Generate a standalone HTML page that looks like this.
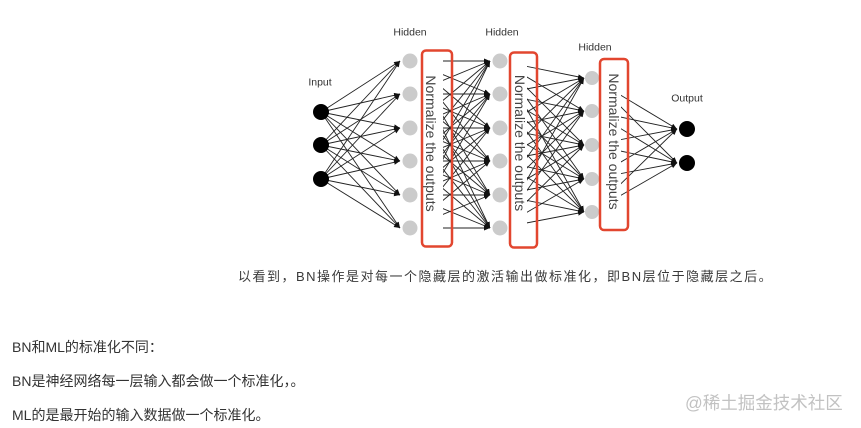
<!DOCTYPE html>
<html><head><meta charset="utf-8">
<style>
html,body{margin:0;padding:0;background:#fff;}
body{width:861px;height:428px;position:relative;overflow:hidden;font-family:"Liberation Sans","Noto Sans CJK SC",sans-serif;}
svg{position:absolute;left:0;top:0;}
.l line{stroke:#222;stroke-width:0.9;marker-end:url(#a);}
.t{position:absolute;white-space:nowrap;}
</style></head><body>
<svg width="861" height="428" viewBox="0 0 861 428">
<defs>
<marker id="a" markerUnits="userSpaceOnUse" markerWidth="7" markerHeight="6" refX="6" refY="2.5" orient="auto"><path d="M0,0 L6,2.5 L0,5 z" fill="#111"/></marker>
<clipPath id="c1"><rect x="443" y="0" width="60" height="300"/></clipPath>
<clipPath id="c2"><rect x="527" y="0" width="60" height="300"/></clipPath>
<clipPath id="c3"><rect x="621" y="0" width="60" height="300"/></clipPath>
</defs>
<g font-family="Liberation Sans, sans-serif" font-size="10.5" fill="#333" text-anchor="middle">
<text x="410" y="35.5">Hidden</text>
<text x="502" y="35.5">Hidden</text>
<text x="595" y="50.5">Hidden</text>
<text x="320" y="85.5">Input</text>
<text x="687" y="101.5">Output</text>
</g>
<!-- input -> hidden1 -->
<g class="l">
<line x1="321" y1="112" x2="400" y2="61"/><line x1="321" y1="112" x2="400" y2="94"/><line x1="321" y1="112" x2="400" y2="128"/><line x1="321" y1="112" x2="400" y2="161"/><line x1="321" y1="112" x2="400" y2="195"/><line x1="321" y1="112" x2="400" y2="228"/>
<line x1="321" y1="145" x2="400" y2="61"/><line x1="321" y1="145" x2="400" y2="94"/><line x1="321" y1="145" x2="400" y2="128"/><line x1="321" y1="145" x2="400" y2="161"/><line x1="321" y1="145" x2="400" y2="195"/><line x1="321" y1="145" x2="400" y2="228"/>
<line x1="321" y1="179" x2="400" y2="61"/><line x1="321" y1="179" x2="400" y2="94"/><line x1="321" y1="179" x2="400" y2="128"/><line x1="321" y1="179" x2="400" y2="161"/><line x1="321" y1="179" x2="400" y2="195"/><line x1="321" y1="179" x2="400" y2="228"/>
</g>
<!-- hidden1 -> hidden2 -->
<g class="l" clip-path="url(#c1)">
<line x1="410" y1="61" x2="490" y2="61"/><line x1="410" y1="61" x2="490" y2="94"/><line x1="410" y1="61" x2="490" y2="128"/><line x1="410" y1="61" x2="490" y2="161"/><line x1="410" y1="61" x2="490" y2="195"/><line x1="410" y1="61" x2="490" y2="228"/>
<line x1="410" y1="94" x2="490" y2="61"/><line x1="410" y1="94" x2="490" y2="94"/><line x1="410" y1="94" x2="490" y2="128"/><line x1="410" y1="94" x2="490" y2="161"/><line x1="410" y1="94" x2="490" y2="195"/><line x1="410" y1="94" x2="490" y2="228"/>
<line x1="410" y1="128" x2="490" y2="61"/><line x1="410" y1="128" x2="490" y2="94"/><line x1="410" y1="128" x2="490" y2="128"/><line x1="410" y1="128" x2="490" y2="161"/><line x1="410" y1="128" x2="490" y2="195"/><line x1="410" y1="128" x2="490" y2="228"/>
<line x1="410" y1="161" x2="490" y2="61"/><line x1="410" y1="161" x2="490" y2="94"/><line x1="410" y1="161" x2="490" y2="128"/><line x1="410" y1="161" x2="490" y2="161"/><line x1="410" y1="161" x2="490" y2="195"/><line x1="410" y1="161" x2="490" y2="228"/>
<line x1="410" y1="195" x2="490" y2="61"/><line x1="410" y1="195" x2="490" y2="94"/><line x1="410" y1="195" x2="490" y2="128"/><line x1="410" y1="195" x2="490" y2="161"/><line x1="410" y1="195" x2="490" y2="195"/><line x1="410" y1="195" x2="490" y2="228"/>
<line x1="410" y1="228" x2="490" y2="61"/><line x1="410" y1="228" x2="490" y2="94"/><line x1="410" y1="228" x2="490" y2="128"/><line x1="410" y1="228" x2="490" y2="161"/><line x1="410" y1="228" x2="490" y2="195"/><line x1="410" y1="228" x2="490" y2="228"/>
</g>
<!-- hidden2 -> hidden3 -->
<g class="l" clip-path="url(#c2)">
<line x1="500" y1="61" x2="584" y2="78"/><line x1="500" y1="61" x2="584" y2="111"/><line x1="500" y1="61" x2="584" y2="145"/><line x1="500" y1="61" x2="584" y2="179"/><line x1="500" y1="61" x2="584" y2="212"/>
<line x1="500" y1="94" x2="584" y2="78"/><line x1="500" y1="94" x2="584" y2="111"/><line x1="500" y1="94" x2="584" y2="145"/><line x1="500" y1="94" x2="584" y2="179"/><line x1="500" y1="94" x2="584" y2="212"/>
<line x1="500" y1="128" x2="584" y2="78"/><line x1="500" y1="128" x2="584" y2="111"/><line x1="500" y1="128" x2="584" y2="145"/><line x1="500" y1="128" x2="584" y2="179"/><line x1="500" y1="128" x2="584" y2="212"/>
<line x1="500" y1="161" x2="584" y2="78"/><line x1="500" y1="161" x2="584" y2="111"/><line x1="500" y1="161" x2="584" y2="145"/><line x1="500" y1="161" x2="584" y2="179"/><line x1="500" y1="161" x2="584" y2="212"/>
<line x1="500" y1="195" x2="584" y2="78"/><line x1="500" y1="195" x2="584" y2="111"/><line x1="500" y1="195" x2="584" y2="145"/><line x1="500" y1="195" x2="584" y2="179"/><line x1="500" y1="195" x2="584" y2="212"/>
<line x1="500" y1="228" x2="584" y2="78"/><line x1="500" y1="228" x2="584" y2="111"/><line x1="500" y1="228" x2="584" y2="145"/><line x1="500" y1="228" x2="584" y2="179"/><line x1="500" y1="228" x2="584" y2="212"/>
</g>
<!-- hidden3 -> output -->
<g class="l" clip-path="url(#c3)">
<line x1="592" y1="78" x2="677" y2="129"/><line x1="592" y1="78" x2="677" y2="163"/>
<line x1="592" y1="111" x2="677" y2="129"/><line x1="592" y1="111" x2="677" y2="163"/>
<line x1="592" y1="145" x2="677" y2="129"/><line x1="592" y1="145" x2="677" y2="163"/>
<line x1="592" y1="179" x2="677" y2="129"/><line x1="592" y1="179" x2="677" y2="163"/>
<line x1="592" y1="212" x2="677" y2="129"/><line x1="592" y1="212" x2="677" y2="163"/>
</g>
<!-- nodes -->
<g fill="#000">
<circle cx="321" cy="112" r="8"/><circle cx="321" cy="145" r="8"/><circle cx="321" cy="179" r="8"/>
<circle cx="687" cy="129" r="8"/><circle cx="687" cy="163" r="8"/>
</g>
<g fill="#cbcbcb">
<circle cx="410" cy="61" r="7.5"/><circle cx="410" cy="94" r="7.5"/><circle cx="410" cy="128" r="7.5"/><circle cx="410" cy="161" r="7.5"/><circle cx="410" cy="195" r="7.5"/><circle cx="410" cy="228" r="7.5"/>
<circle cx="500" cy="61" r="7.5"/><circle cx="500" cy="94" r="7.5"/><circle cx="500" cy="128" r="7.5"/><circle cx="500" cy="161" r="7.5"/><circle cx="500" cy="195" r="7.5"/><circle cx="500" cy="228" r="7.5"/>
<circle cx="592" cy="78" r="7"/><circle cx="592" cy="111" r="7"/><circle cx="592" cy="145" r="7"/><circle cx="592" cy="179" r="7"/><circle cx="592" cy="212" r="7"/>
</g>
<!-- boxes -->
<g fill="none" stroke="#e2462f" stroke-width="2.5">
<rect x="422" y="50.5" width="30" height="196" rx="4"/>
<rect x="510" y="52.5" width="27" height="195" rx="4"/>
<rect x="600" y="59" width="28" height="171" rx="4"/>
</g>
<g font-family="Liberation Sans, sans-serif" font-size="14" fill="#444" text-anchor="middle" dominant-baseline="central">
<text x="431" y="143.5" transform="rotate(90 431 143.5)">Normalize the outputs</text>
<text x="520" y="143" transform="rotate(90 520 143)">Normalize the outputs</text>
<text x="614" y="141.5" transform="rotate(90 614 141.5)">Normalize the outputs</text>
</g>
</svg>
<div class="t" style="left:238px;top:268px;font-size:13px;line-height:18px;letter-spacing:1.5px;color:#3a3a3a;">以看到，BN操作是对每一个隐藏层的激活输出做标准化，即BN层位于隐藏层之后。</div>
<div class="t" style="left:12px;top:337px;font-size:14px;line-height:20px;color:#333;">BN和ML的标准化不同：</div>
<div class="t" style="left:12px;top:371px;font-size:14px;line-height:20px;color:#333;">BN是神经网络每一层输入都会做一个标准化，。</div>
<div class="t" style="left:12px;top:405px;font-size:14px;line-height:20px;color:#333;">ML的是最开始的输入数据做一个标准化。</div>
<div class="t" style="left:685px;top:392px;font-size:17.5px;line-height:22px;color:#c2c2c2;">@稀土掘金技术社区</div>
</body></html>
